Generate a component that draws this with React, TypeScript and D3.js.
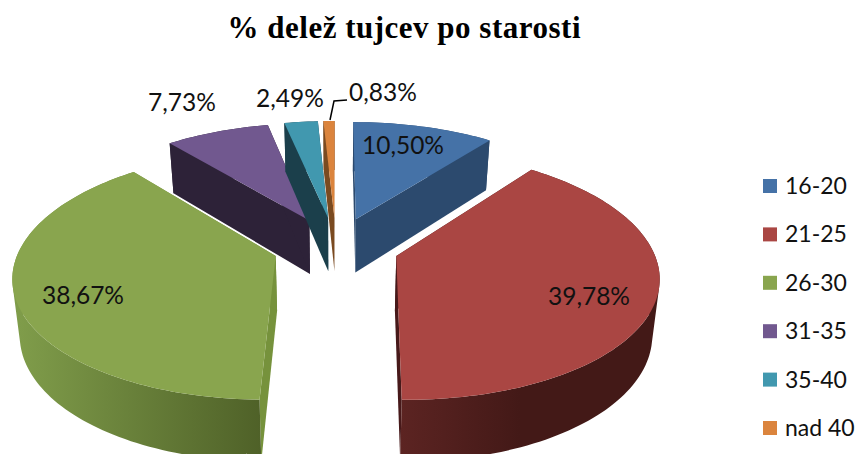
import React from 'react';
import * as d3 from 'd3';

const categories = ['16-20', '21-25', '26-30', '31-35', '35-40', 'nad 40'];
const shares = [10.5, 39.78, 38.67, 7.73, 2.49, 0.83];
const shareLabels = ['10,50%', '39,78%', '38,67%', '7,73%', '2,49%', '0,83%'];
const topColors = ['#4572a7', '#aa4643', '#89a54e', '#71588f', '#4198af', '#db843d'];
const cutColors = ['#2c4a6e', '#47191a', '#76923c', '#2d2238', '#1b3f4b', '#7a4a20'];
const rimFrom = ['#2c4a6e', '#5c2422', '#7f9c4a', '#2d2238', '#1b3f4b', '#7a4a20'];
const rimTo = ['#2c4a6e', '#431917', '#4f6128', '#2d2238', '#1b3f4b', '#7a4a20'];
const labelX = [403, 589, 83, 182, 290, 383];
const labelY = [146, 297, 296, 103, 99, 93];

// projection of the pie plane, numbers fitted to the reference
const cx = 336;
const cy = 246;
const rx = 255.6;
const ry = 119;
const persp = 0.15;
const depth = 56;
const explode = 0.247;

const project = (X: number, Y: number, low = false): [number, number] => {
  const s = (1 / (1 - persp * Y)) * (low ? 0.977 : 1);
  return [cx + rx * X * s, cy + ry * Y * s + (low ? depth * s : 0)];
};

const line = d3.line();
const arcs = d3.pie<number>().sort(null)(shares);

const slices = arcs.map((a, i) => {
  const mid = (a.startAngle + a.endAngle) / 2;
  const ox = Math.sin(mid) * explode;
  const oy = -Math.cos(mid) * explode;
  const steps = Math.max(3, Math.ceil((a.endAngle - a.startAngle) * 40));
  const rim = d3.range(steps + 1).map((k) => {
    const t = a.startAngle + ((a.endAngle - a.startAngle) * k) / steps;
    return [ox + Math.sin(t), oy - Math.cos(t)];
  });
  const top = rim.map(([x, y]) => project(x, y));
  const low = rim.map(([x, y]) => project(x, y, true));
  const tip = project(ox, oy);
  const tipLow = project(ox, oy, true);
  const lastTop = top[top.length - 1];
  const lastLow = low[low.length - 1];
  // rim as one strip of quads, all wound the same way so the silhouette fills
  const rimPath = d3.range(steps).map((k) => {
    const quad = [top[k], top[k + 1], low[k + 1], low[k]];
    return line(d3.polygonArea(quad) < 0 ? quad.reverse() : quad) + 'Z';
  }).join('');
  return {
    i,
    top: line([tip, ...top])! + 'Z',
    rim: rimPath,
    cutA: line([tip, top[0], low[0], tipLow])! + 'Z',
    cutB: line([tip, lastTop, lastLow, tipLow])! + 'Z',
    x0: d3.min(low, (d) => d[0])!,
    x1: d3.max(low, (d) => d[0])!,
  };
});

// back slices first, the two big front ones last
const drawOrder = [0, 3, 4, 5, 2, 1];

const legendY = d3.scalePoint<string>().domain(categories).range([186, 428]);

export default function App() {
  return (
    <svg
      width={860}
      height={454}
      style={{ position: 'absolute', left: 0, top: 0, background: '#fff' }}
    >
      <defs>
        {slices.map((s) => (
          <linearGradient
            key={s.i}
            id={`rim${s.i}`}
            gradientUnits="userSpaceOnUse"
            x1={s.i === 1 ? 400 : s.x0}
            x2={s.i === 1 ? 520 : s.x1}
            y1={0}
            y2={0}
          >
            <stop offset="0" stopColor={rimFrom[s.i]} />
            <stop offset="1" stopColor={rimTo[s.i]} />
          </linearGradient>
        ))}
      </defs>

      <text
        x={404}
        y={38}
        textAnchor="middle"
        fontFamily="'Liberation Serif', serif"
        fontWeight="bold"
        fontSize={31}
        textLength={353}
        fill="#000"
      >
        % delež tujcev po starosti
      </text>

      {drawOrder.map((i) => {
        const s = slices[i];
        return (
          <g key={i}>
            <path d={s.cutA} fill={cutColors[i]} />
            <path d={s.cutB} fill={cutColors[i]} />
            <path d={s.rim} fill={`url(#rim${i})`} />
            <path d={s.top} fill={topColors[i]} />
          </g>
        );
      })}

      <path d="M330,120L334,101L347,100" fill="none" stroke="#000" strokeWidth={1.5} />

      {shareLabels.map((t, i) => (
        <text
          key={t}
          x={labelX[i]}
          y={labelY[i] + 8}
          textAnchor="middle"
          fontFamily="Lato, sans-serif"
          fontSize={24.5}
          fill="#111"
        >
          {t}
        </text>
      ))}

      {categories.map((c, i) => (
        <g key={c} transform={`translate(763,${legendY(c)})`}>
          <rect x={0} y={-7} width={14} height={14} fill={topColors[i]} />
          <text x={22} y={8} fontFamily="Lato, sans-serif" fontSize={23} fill="#111">
            {c}
          </text>
        </g>
      ))}
    </svg>
  );
}
